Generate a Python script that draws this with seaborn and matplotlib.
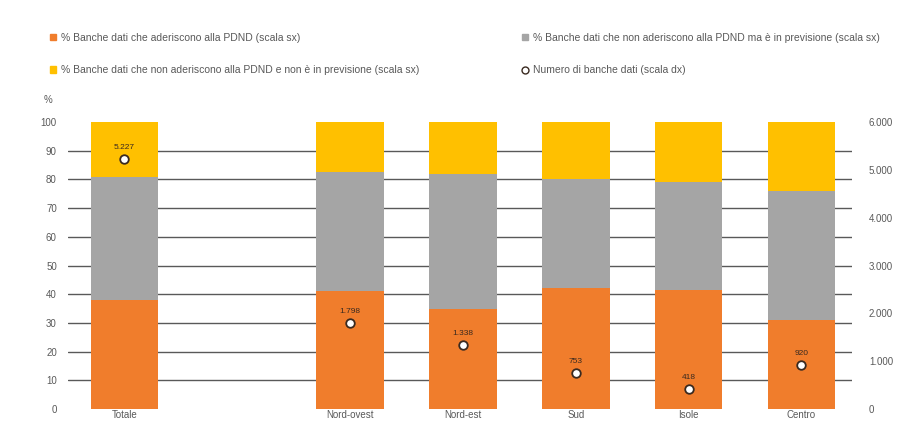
import numpy as np
import pandas as pd
import matplotlib
matplotlib.use('Agg')
import matplotlib.pyplot as plt
import seaborn as sns
from matplotlib.patches import Patch
from matplotlib.lines import Line2D
from matplotlib.ticker import FuncFormatter, MultipleLocator

# --- DATA ---
categories = ["Totale", " ", "Nord-ovest", "Nord-est", "Sud", "Isole", "Centro"]
regions = ["Totale", "Nord-ovest", "Nord-est", "Sud", "Isole", "Centro"]
pct_aderiscono = [38, 41, 35, 42, 41.5, 31]
pct_in_previsione = [43, 41.5, 47, 38, 37.5, 45]
pct_non_previsione = [19, 17.5, 18, 20, 21, 24]
num_banche = [5227, 1798, 1338, 753, 418, 920]

label_ader = "% Banche dati che aderiscono alla PDND (scala sx)"
label_prev = "% Banche dati che non aderiscono alla PDND ma è in previsione (scala sx)"
label_nonprev = "% Banche dati che non aderiscono alla PDND e non è in previsione (scala sx)"
label_num = "Numero di banche dati (scala dx)"

C_ORANGE = "#F07D2C"
C_GRAY = "#A5A5A5"
C_YELLOW = "#FFC000"
TXT = "#595959"

sns.set_style("white")
plt.rcParams['font.family'] = ['Liberation Sans', 'DejaVu Sans']
plt.rcParams['font.size'] = 7

df = pd.DataFrame({
    "regione": regions,
    "ader": pct_aderiscono,
    "prev": pct_in_previsione,
    "nonprev": pct_non_previsione,
    "num": num_banche,
})
df["cum1"] = df["ader"]
df["cum2"] = df["ader"] + df["prev"]
df["cum3"] = df["cum2"] + df["nonprev"]

fig = plt.figure(figsize=(8.99, 4.21), dpi=100)
ax = fig.add_axes([0.0756, 0.0285, 0.8724, 0.6815])

# gridlines (interior only), behind bars
for yv in range(10, 100, 10):
    ax.axhline(yv, color="#595959", lw=1.0, zorder=0)

# stacked bars: draw the cumulative totals back to front
for col, colr in [("cum3", C_YELLOW), ("cum2", C_GRAY), ("cum1", C_ORANGE)]:
    sns.barplot(data=df, x="regione", y=col, order=categories, color=colr,
                width=0.6, saturation=1, edgecolor="none", ax=ax, zorder=2)

ax.set_xlim(-0.5, 6.45)
ax.set_ylim(0, 100)
ax.yaxis.set_major_locator(MultipleLocator(10))
ax.set_xlabel("")
ax.set_ylabel("")
ax.tick_params(axis="both", length=0, colors=TXT, labelsize=7)
ax.tick_params(axis="y", pad=8)
ax.tick_params(axis="x", pad=1)
sns.despine(ax=ax, left=True, bottom=True)
ax.text(-0.02, 1.077, "%", transform=ax.transAxes, ha="right", va="center",
        color=TXT, fontsize=7)

# secondary axis: number of databases
ax2 = ax.twinx()
xpos = [categories.index(r) for r in regions]
sns.scatterplot(x=xpos, y=df["num"], ax=ax2, marker="o", s=38,
                color="white", edgecolor="#3a2a20", linewidth=1.3, zorder=5,
                legend=False)
for xp, v in zip(xpos, num_banche):
    ax2.annotate(f"{v:,}".replace(",", "."), (xp, v), xytext=(0, 6),
                 textcoords="offset points", ha="center", va="bottom",
                 fontsize=6, color="#3a2a20")
ax2.set_ylim(0, 6000)
ax2.yaxis.set_major_locator(MultipleLocator(1000))
ax2.yaxis.set_major_formatter(FuncFormatter(lambda v, p: f"{int(v):,}".replace(",", ".")))
ax2.tick_params(axis="y", length=0, colors=TXT, labelsize=7, pad=12)
ax2.set_ylabel("")
for s in ax2.spines.values():
    s.set_visible(False)
ax.set_xlim(-0.5, 6.45)

# legend
handles = [
    Patch(color=C_ORANGE, label=label_ader),
    Patch(color=C_YELLOW, label=label_nonprev),
    Patch(color=C_GRAY, label=label_prev),
    Line2D([], [], marker="o", ls="none", markerfacecolor="white",
           markeredgecolor="#3a2a20", markersize=5, label=label_num),
]
fig.legend(handles=handles, ncol=2, loc="upper left", bbox_to_anchor=(0.045, 0.945),
           frameon=False, fontsize=7.5, labelcolor=TXT, handlelength=0.6,
           handleheight=0.6, handletextpad=0.5, labelspacing=2.17,
           columnspacing=9.8)

fig.savefig("out.png", dpi=100)
